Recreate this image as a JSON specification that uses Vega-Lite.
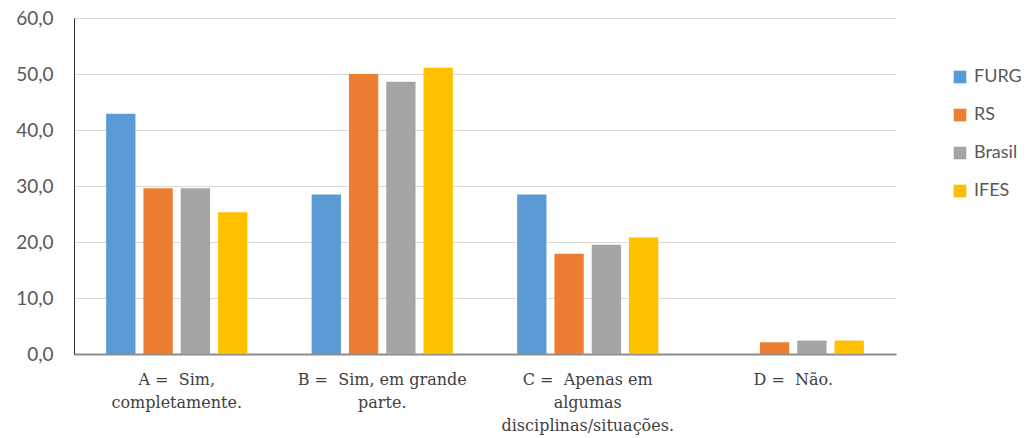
{
  "$schema": "https://vega.github.io/schema/vega-lite/v6.json",
  "autosize": {"type": "none"},
  "padding": {"left": 74, "top": 18, "right": 131, "bottom": 84},
  "width": 822,
  "height": 336,
  "background": "white",
  "data": {
    "values": [
      {"cat": "A =\u00a0 Sim,|completamente.", "serie": "FURG", "v": 42.9},
      {"cat": "A =\u00a0 Sim,|completamente.", "serie": "RS", "v": 29.6},
      {"cat": "A =\u00a0 Sim,|completamente.", "serie": "Brasil", "v": 29.6},
      {"cat": "A =\u00a0 Sim,|completamente.", "serie": "IFES", "v": 25.3},
      {"cat": "B =\u00a0 Sim, em grande|parte.", "serie": "FURG", "v": 28.5},
      {"cat": "B =\u00a0 Sim, em grande|parte.", "serie": "RS", "v": 50.0},
      {"cat": "B =\u00a0 Sim, em grande|parte.", "serie": "Brasil", "v": 48.6},
      {"cat": "B =\u00a0 Sim, em grande|parte.", "serie": "IFES", "v": 51.1},
      {"cat": "C =\u00a0 Apenas em|algumas|disciplinas/situações.", "serie": "FURG", "v": 28.5},
      {"cat": "C =\u00a0 Apenas em|algumas|disciplinas/situações.", "serie": "RS", "v": 17.9},
      {"cat": "C =\u00a0 Apenas em|algumas|disciplinas/situações.", "serie": "Brasil", "v": 19.5},
      {"cat": "C =\u00a0 Apenas em|algumas|disciplinas/situações.", "serie": "IFES", "v": 20.8},
      {"cat": "D =\u00a0 Não.", "serie": "FURG", "v": 0},
      {"cat": "D =\u00a0 Não.", "serie": "RS", "v": 2.1},
      {"cat": "D =\u00a0 Não.", "serie": "Brasil", "v": 2.4},
      {"cat": "D =\u00a0 Não.", "serie": "IFES", "v": 2.4}
    ]
  },
  "mark": {"type": "bar"},
  "encoding": {
    "x": {
      "field": "cat", "type": "nominal", "sort": null,
      "scale": {"paddingInner": 0, "paddingOuter": 0},
      "axis": {
        "title": null, "labelAngle": 0, "ticks": false,
        "labelExpr": "split(datum.label, '|')",
        "labelFont": "DejaVu Serif", "labelFontSize": 16, "labelColor": "#404040",
        "labelLineHeight": 23, "labelPadding": 17, "labelBaseline": "top",
        "domainColor": "#8c8c8c", "domainWidth": 2
      }
    },
    "xOffset": {
      "field": "serie", "type": "nominal", "sort": ["FURG", "RS", "Brasil", "IFES"],
      "scale": {"paddingInner": 0.214, "paddingOuter": 0.862}
    },
    "y": {
      "field": "v", "type": "quantitative",
      "scale": {"domain": [0, 60]},
      "axis": {
        "title": null, "values": [0, 10, 20, 30, 40, 50, 60],
        "labelExpr": "replace(format(datum.value, '.1f'), '.', ',')",
        "labelOverlap": false,
        "ticks": false, "labelPadding": 21,
        "labelFont": "Lato", "labelFontSize": 19, "labelColor": "#595959",
        "domainColor": "#333333", "domainWidth": 1,
        "gridColor": "#d9d9d9", "gridWidth": 1
      }
    },
    "color": {
      "field": "serie", "type": "nominal", "sort": ["FURG", "RS", "Brasil", "IFES"],
      "scale": {"domain": ["FURG", "RS", "Brasil", "IFES"], "range": ["#5B9BD5", "#ED7D31", "#A5A5A5", "#FFC000"]},
      "legend": {
        "title": null, "orient": "none", "legendX": 877, "legendY": 50,
        "symbolType": "square", "symbolSize": 160, "symbolStrokeWidth": 0,
        "labelFont": "Lato", "labelFontSize": 18, "labelColor": "#595959",
        "rowPadding": 20, "labelOffset": 5
      }
    }
  },
  "config": {"view": {"stroke": null}}
}
